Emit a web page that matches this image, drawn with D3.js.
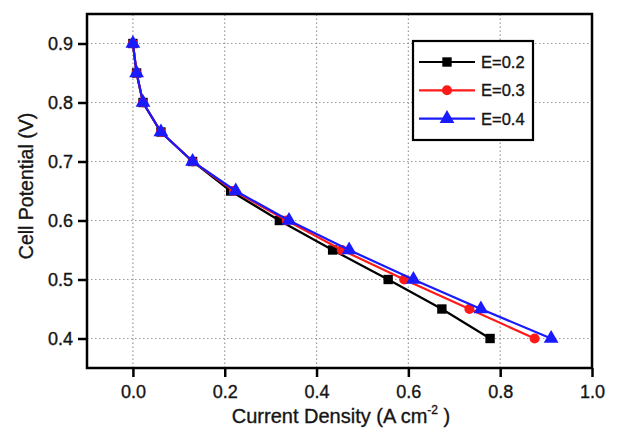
<!DOCTYPE html>
<html lang="en">
<head>
<meta charset="UTF-8">
<script src="https://cdn.jsdelivr.net/npm/d3@7"></script>
<style>
  body { margin: 0; background: #fff; }
  svg text { font-family: "Liberation Sans", Arial, sans-serif; fill: #151515; stroke: #151515; stroke-width: 0.35px; }
</style>
</head>
<body>
<div id="chart"></div>
<script>
// cell potential (V) levels shared by all series
const potential = [0.9, 0.85, 0.8, 0.75, 0.7, 0.65, 0.6, 0.55, 0.5, 0.45, 0.4];
// current density (A cm^-2)
const currentE02 = [0.0, 0.008, 0.022, 0.061, 0.13, 0.213, 0.319, 0.435, 0.556, 0.673, 0.778];
const currentE03 = [0.0, 0.008, 0.022, 0.061, 0.13, 0.22, 0.335, 0.455, 0.591, 0.733, 0.875];
const currentE04 = [0.0, 0.008, 0.022, 0.061, 0.13, 0.224, 0.34, 0.471, 0.611, 0.758, 0.911];
const seriesNames = ["E=0.2", "E=0.3", "E=0.4"];
const xTicks = [0.0, 0.2, 0.4, 0.6, 0.8, 1.0];
const yTicks = [0.4, 0.5, 0.6, 0.7, 0.8, 0.9];

const W = 622, H = 430;
const margin = {left: 87, right: 30, top: 14, bottom: 62};

const series = [
  {name: seriesNames[0], xs: currentE02, color: "#000000", symbol: d3.symbolSquare},
  {name: seriesNames[1], xs: currentE03, color: "#ff1a1a", symbol: d3.symbolCircle},
  {name: seriesNames[2], xs: currentE04, color: "#1a1aff", symbol: d3.symbolTriangle}
];
const symSize = s => s === d3.symbolTriangle ? 95 : s === d3.symbolSquare ? 88 : 80;

const svg = d3.select("#chart").append("svg")
  .attr("width", W).attr("height", H);

const x = d3.scaleLinear().domain([-0.1, 1.0]).range([margin.left, W - margin.right]);
const y = d3.scaleLinear().domain([0.35, 0.95]).range([H - margin.bottom, margin.top]);

// dotted grid
svg.append("g").selectAll("line").data(xTicks).join("line")
  .attr("x1", d => x(d)).attr("x2", d => x(d))
  .attr("y1", y(0.35)).attr("y2", y(0.95))
  .attr("stroke", "#999").attr("stroke-width", 1.2).attr("stroke-dasharray", "1.5,2.5");
svg.append("g").selectAll("line").data(yTicks).join("line")
  .attr("y1", d => y(d)).attr("y2", d => y(d))
  .attr("x1", x(-0.1)).attr("x2", x(1.0))
  .attr("stroke", "#999").attr("stroke-width", 1.2).attr("stroke-dasharray", "1.5,2.5");

// axes
const xAxis = svg.append("g")
  .attr("transform", `translate(0,${H - margin.bottom})`)
  .call(d3.axisBottom(x).tickValues(xTicks).tickFormat(d3.format(".1f")).tickSizeOuter(0).tickSize(9).tickPadding(8));
const yAxis = svg.append("g")
  .attr("transform", `translate(${margin.left},0)`)
  .call(d3.axisLeft(y).tickValues(yTicks).tickFormat(d3.format(".1f")).tickSizeOuter(0).tickSize(9).tickPadding(5));
[xAxis, yAxis].forEach(g => {
  g.select(".domain").remove();
  g.selectAll(".tick line").attr("stroke", "#000").attr("stroke-width", 2.5);
  g.selectAll(".tick text").attr("font-size", 18).attr("fill", "#151515")
    .attr("font-family", "'Liberation Sans', Arial, sans-serif");
});

// frame
svg.append("rect")
  .attr("x", x(-0.1)).attr("y", y(0.95))
  .attr("width", x(1.0) - x(-0.1)).attr("height", y(0.35) - y(0.95))
  .attr("fill", "none").attr("stroke", "#000").attr("stroke-width", 2.5);

// lines + markers
const line = d3.line().x(d => x(d[0])).y(d => y(d[1]));
series.forEach(s => {
  const pts = s.xs.map((v, i) => [v, potential[i]]);
  svg.append("path").datum(pts)
    .attr("d", line).attr("fill", "none")
    .attr("stroke", s.color).attr("stroke-width", 2.2);
  svg.append("g").selectAll("path").data(pts).join("path")
    .attr("transform", d => `translate(${x(d[0])},${y(d[1])})`)
    .attr("d", d3.symbol().type(s.symbol).size(symSize(s.symbol)))
    .attr("fill", s.color);
});

// legend
const leg = svg.append("g");
leg.append("rect")
  .attr("x", 413).attr("y", 41).attr("width", 120).attr("height", 99)
  .attr("fill", "#fff").attr("stroke", "#000").attr("stroke-width", 2.2);
series.forEach((s, i) => {
  const ly = 62 + i * 28.3;
  leg.append("line").attr("x1", 419).attr("x2", 475).attr("y1", ly).attr("y2", ly)
    .attr("stroke", s.color).attr("stroke-width", 2.2);
  leg.append("path").attr("transform", `translate(447,${ly})`)
    .attr("d", d3.symbol().type(s.symbol).size(symSize(s.symbol)))
    .attr("fill", s.color);
  leg.append("text").attr("x", 481).attr("y", ly + 6)
    .attr("font-size", 16.5).text(s.name);
});

// axis titles
svg.append("text")
  .attr("transform", `translate(33,186) rotate(-90)`)
  .attr("text-anchor", "middle").attr("font-size", 19.5)
  .text("Cell Potential (V)");

const xt = svg.append("text")
  .attr("x", 341).attr("y", 423)
  .attr("text-anchor", "middle").attr("font-size", 20);
xt.append("tspan").text("Current Density (A cm");
xt.append("tspan").attr("dy", -9).attr("font-size", 12).text("-2");
xt.append("tspan").attr("dy", 9).text(" )");
</script>
</body>
</html>
